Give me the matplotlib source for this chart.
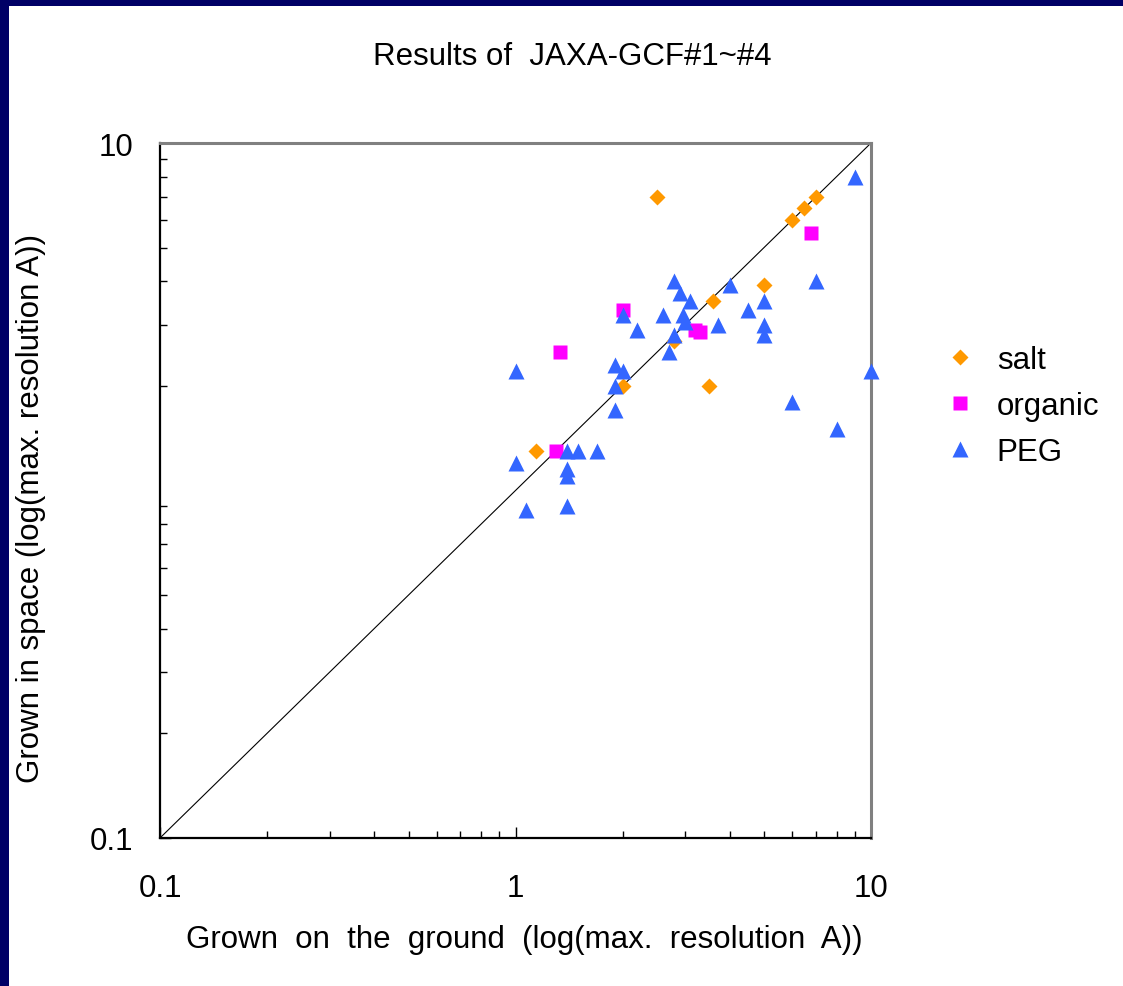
import matplotlib
matplotlib.use("Agg")
import matplotlib.pyplot as plt
from matplotlib.patches import Rectangle
from matplotlib.ticker import LogLocator, NullFormatter, FixedLocator, FixedFormatter

# values (resolution in A, ground vs space)
salt_x = [2.5, 7.0, 6.5, 6.0, 5.0, 3.6, 2.8, 2.0, 3.5, 1.14]
salt_y = [7.0, 7.0, 6.5, 6.0, 3.9, 3.5, 2.7, 2.0, 2.0, 1.3]

organic_x = [6.8, 2.0, 3.2, 3.3, 1.33, 1.3]
organic_y = [5.5, 3.3, 2.9, 2.85, 2.5, 1.3]

peg_x = [9.0, 7.0, 2.8, 4.0, 2.9, 3.1, 5.0, 4.5, 2.0, 2.6,
         2.95, 3.0, 2.2, 3.7, 5.0, 5.0, 2.8, 2.7, 1.0, 1.9,
         2.0, 1.9, 1.9, 6.0, 8.0, 10.0, 1.4, 1.5, 1.7, 1.0,
         1.4, 1.4, 1.07, 1.4]
peg_y = [8.0, 4.0, 4.0, 3.9, 3.7, 3.5, 3.5, 3.3, 3.2, 3.2,
         3.2, 3.05, 2.9, 3.0, 3.0, 2.8, 2.8, 2.5, 2.2, 2.3,
         2.2, 2.0, 1.7, 1.8, 1.5, 2.2, 1.3, 1.3, 1.3, 1.2,
         1.15, 1.1, 0.88, 0.9]

x_ticks = [0.1, 1, 10]
x_tick_labels = ["0.1", "1", "10"]
y_ticks = [0.1, 10]
y_tick_labels = ["0.1", "10"]

FS = 22.5
plt.rcParams['font.family'] = ['Liberation Sans', 'DejaVu Sans']

fig = plt.figure(figsize=(11.23, 9.87), dpi=100, facecolor='#000066')
# white slide area (navy border on top and left only)
fig.add_artist(Rectangle((9 / 1123, 0), 1, 980 / 987, transform=fig.transFigure,
                         facecolor='white', edgecolor='none', zorder=0))

ax = fig.add_axes([0.1425, 0.1500, 0.6331, 0.7041])
ax.set_xscale('log')
ax.set_yscale('log')
ax.set_xlim(0.1, 10)
ax.set_ylim(0.1, 10)

ax.plot([0.1, 10], [0.1, 10], color='black', lw=0.8, zorder=1)

ax.plot(salt_x, salt_y, 'D', ms=8.3, color='#FF9900', mec='none', label='salt',
        zorder=3, clip_on=False)
ax.plot(organic_x, organic_y, 's', ms=10, color='#FF00FF', mec='none', label='organic',
        zorder=4, clip_on=False)
ax.plot(peg_x, peg_y, '^', ms=11.5, color='#3366FF', mec='none', label='PEG',
        zorder=5, clip_on=False)

ax.xaxis.set_major_locator(FixedLocator(x_ticks))
ax.xaxis.set_major_formatter(FixedFormatter(x_tick_labels))
ax.yaxis.set_major_locator(FixedLocator(y_ticks))
ax.yaxis.set_major_formatter(FixedFormatter(y_tick_labels))
for a in (ax.xaxis, ax.yaxis):
    a.set_minor_locator(LogLocator(base=10, subs=range(2, 10)))
    a.set_minor_formatter(NullFormatter())

ax.tick_params(which='both', direction='in', color='black', width=1)
ax.tick_params(which='major', length=8, labelsize=FS)
ax.tick_params(which='minor', length=5)
ax.tick_params(axis='x', which='major', pad=25)
ax.tick_params(axis='y', which='major', pad=19)

ax.spines['left'].set_color('black')
ax.spines['bottom'].set_color('black')
ax.spines['left'].set_linewidth(1.6)
ax.spines['bottom'].set_linewidth(1.6)
ax.spines['top'].set_color('#808080')
ax.spines['right'].set_color('#808080')
ax.spines['top'].set_linewidth(2.2)
ax.spines['right'].set_linewidth(2.2)

ax.set_xlabel('Grown  on  the  ground  (log(max.  resolution  A))', fontsize=FS, va='center')
ax.set_ylabel('Grown in space (log(max. resolution A))', fontsize=FS, va='center')
ax.xaxis.set_label_coords(0.512, -0.145)
ax.yaxis.set_label_coords(-0.181, 0.476)

fig.text(0.51, 0.942, 'Results of  JAXA-GCF#1~#4', fontsize=FS, ha='center', va='center')

fig.legend(loc='center left', bbox_to_anchor=(944 / 1123, 1 - 407 / 987),
           frameon=False, fontsize=FS, handlelength=1.0, handletextpad=0.69,
           borderpad=0, borderaxespad=0, labelspacing=0.51, numpoints=1)

fig.savefig('out.png', dpi=100, facecolor=fig.get_facecolor())
